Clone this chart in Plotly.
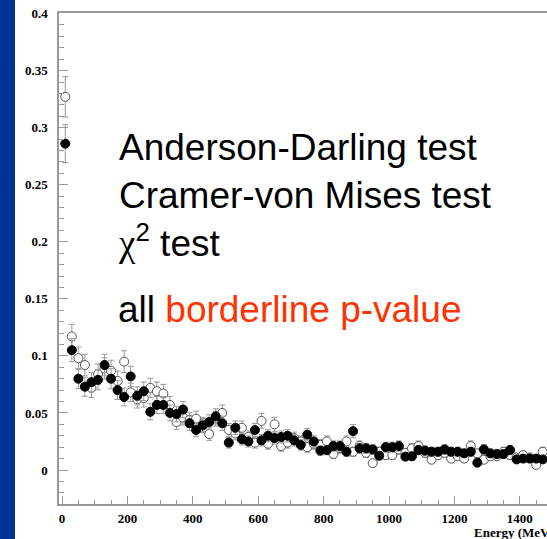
import numpy as np
import plotly.graph_objects as go

# bin centres (MeV)
energy = list(range(10, 1480, 20))

# filled markers
black_vals = [0.286, 0.105, 0.080, 0.073, 0.077, 0.079, 0.092, 0.080, 0.070, 0.064,
              0.082, 0.065, 0.069, 0.051, 0.057, 0.057, 0.050, 0.049, 0.053, 0.041,
              0.035, 0.039, 0.042, 0.047, 0.041, 0.024, 0.037, 0.027, 0.025, 0.035,
              0.026, 0.030, 0.028, 0.029, 0.030, 0.026, 0.022, 0.031, 0.025, 0.017,
              0.0175, 0.021, 0.021, 0.016, 0.034, 0.019, 0.019, 0.018, 0.0125, 0.020,
              0.020, 0.021, 0.0117, 0.012, 0.0175, 0.017, 0.016, 0.016, 0.018, 0.016,
              0.016, 0.0146, 0.016, 0.0064, 0.018, 0.0146, 0.014, 0.014, 0.0175, 0.0093,
              0.010, 0.010, 0.010, 0.0093]

# open markers
open_vals = [0.327, 0.117, 0.098, 0.092, 0.072, 0.084, 0.089, 0.087, 0.078, 0.095,
             0.068, 0.062, 0.063, 0.072, 0.069, 0.067, 0.057, 0.042, 0.046, 0.044,
             0.045, 0.040, 0.0315, 0.045, 0.050, 0.035, 0.032, 0.037, 0.029, 0.024,
             0.043, 0.023, 0.040, 0.021, 0.024, 0.028, 0.025, 0.020, 0.023, 0.022,
             0.025, 0.014, 0.019, 0.025, 0.016, 0.021, 0.015, 0.006, 0.016, 0.013,
             0.013, 0.018, 0.015, 0.019, 0.021, 0.015, 0.009, 0.013, 0.015, 0.010,
             0.012, 0.010, 0.021, 0.0146, 0.009, 0.012, 0.012, 0.016, 0.013, 0.011,
             0.013, 0.011, 0.0044, 0.016]

# Poisson-like statistical uncertainty of each normalised bin
ERR_SCALE = 0.031
black_err = [ERR_SCALE * np.sqrt(v) for v in black_vals]
open_err = [ERR_SCALE * np.sqrt(v) for v in open_vals]

y_ticks = [0, 0.05, 0.1, 0.15, 0.2, 0.25, 0.3, 0.35, 0.4]
x_ticks = [0, 200, 400, 600, 800, 1000, 1200, 1400]

W, H = 547, 539
L, R, T, B = 59, 0, 13, 35
pw, ph = W - L - R, H - T - B


def px(q):
    return (q - L) / pw


def py(p):
    return (H - B - p) / ph


fig = go.Figure()
fig.add_trace(go.Scatter(
    x=energy, y=open_vals, mode="markers",
    marker=dict(symbol="circle", size=9, color="white", line=dict(color="#555", width=1)),
    error_y=dict(type="data", array=open_err, color="#999", thickness=1, width=3),
    showlegend=False))
fig.add_trace(go.Scatter(
    x=energy, y=black_vals, mode="markers",
    marker=dict(symbol="circle", size=9, color="black", line=dict(color="black", width=1)),
    error_y=dict(type="data", array=black_err, color="#999", thickness=1, width=3),
    showlegend=False))

tickfont = dict(family="Liberation Serif, Times New Roman, serif", size=13, color="black", weight="bold")

fig.update_layout(
    width=W, height=H,
    margin=dict(l=L, r=R, t=T, b=B, autoexpand=False),
    paper_bgcolor="white", plot_bgcolor="white",
    xaxis=dict(range=[-9.2, 1483], tickmode="array", tickvals=x_ticks,
               ticktext=[str(v) for v in x_ticks], automargin=False,
               ticks="inside", ticklen=8, tickcolor="#999", tickwidth=1,
               minor=dict(dtick=50, tick0=0, ticks="inside", ticklen=4, tickcolor="#999"),
               showline=True, linecolor="#999", linewidth=1.5, mirror=True,
               showgrid=False, zeroline=False, tickfont=tickfont, ticklabelstandoff=2),
    yaxis=dict(range=[-0.0298, 0.4005], tickmode="array", tickvals=y_ticks,
               ticktext=["0", "0.05", "0.1", "0.15", "0.2", "0.25", "0.3", "0.35", "0.4"],
               automargin=False,
               ticks="inside", ticklen=9, tickcolor="#999", tickwidth=1,
               minor=dict(dtick=0.01, tick0=0, ticks="inside", ticklen=5, tickcolor="#999"),
               showline=True, linecolor="#999", linewidth=1.5,
               showgrid=False, zeroline=False, tickfont=tickfont, ticklabelstandoff=7),
    font=dict(family="Liberation Sans, Arial, sans-serif"),
)

# slide background strip on the left
fig.add_shape(type="rect", xref="paper", yref="paper",
              x0=px(-2), x1=px(15), y0=py(H + 2), y1=py(-2),
              fillcolor="#003399", line=dict(width=0), layer="above")

fig.add_annotation(
    xref="paper", yref="paper", x=px(116), y=py(125), xanchor="left", yanchor="top",
    align="left", showarrow=False,
    text="Anderson-Darling test<br>Cramer-von Mises test<br>"
         "<span style='font-family:Liberation Serif'>χ</span><sup>2</sup> test",
    font=dict(family="Liberation Sans, Arial, sans-serif", size=37, color="black"))
fig.add_annotation(
    xref="paper", yref="paper", x=px(116), y=py(287), xanchor="left", yanchor="top",
    align="left", showarrow=False,
    text="all <span style='color:#ff3300'>borderline p-value</span>",
    font=dict(family="Liberation Sans, Arial, sans-serif", size=37, color="black"))

fig.add_annotation(
    xref="paper", yref="paper", x=px(472), y=py(532), xanchor="left", yanchor="middle",
    showarrow=False, text="Energy (MeV)",
    font=dict(family="Liberation Serif, Times New Roman, serif", size=13, color="black", weight="bold"))

fig.write_html("out.html", config={"displayModeBar": False},
               post_script="document.body.style.margin='0px';")
